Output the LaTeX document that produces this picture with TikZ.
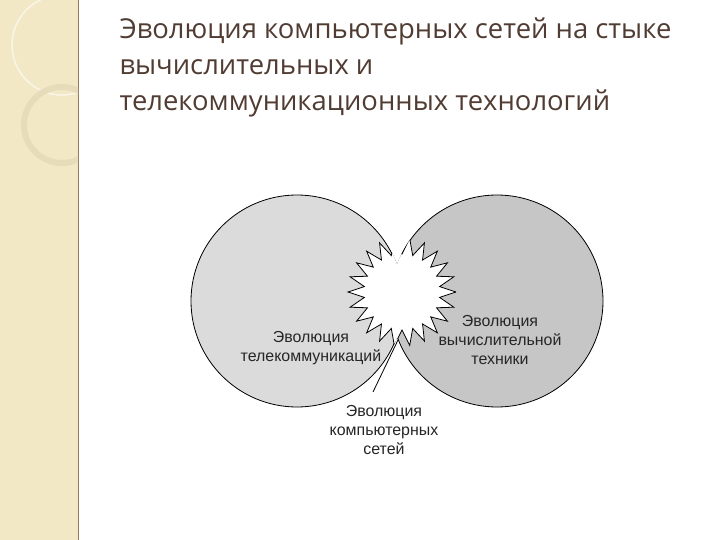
\documentclass[tikz,border=0pt]{standalone}
\usepackage{fontspec}
\setmainfont{Open Sans}
\newfontfamily\diagfont{Liberation Sans}
\definecolor{panel}{RGB}{242,232,198}
\definecolor{panelline}{RGB}{150,120,90}
\definecolor{ring}{RGB}{230,220,185}
\definecolor{titlec}{RGB}{80,60,50}
\begin{document}
\begin{tikzpicture}[x=1bp,y=-1bp,
  circ/.style={draw=black,line width=0.8bp},
  lbl/.style={font=\diagfont\fontsize{16}{19}\selectfont,align=center,text=black!85},
  ttl/.style={font=\fontsize{27.5}{36}\selectfont,text=titlec,anchor=west}]
\useasboundingbox (0,0) rectangle (720,540);
\fill[white] (0,0) rectangle (720,540);
% left panel
\fill[panel] (0,0) rectangle (78,540);
\draw[panelline,line width=1bp] (78,0) -- (78,540);
\begin{scope}
\clip (0,0) rectangle (78,540);
\draw[white,opacity=0.6,line width=1.5bp] (62,45) circle (50);
\draw[ring,line width=6bp] (62,125) circle (38);
\end{scope}
% title
\node[ttl] (t1) at (116,31) {Эволюция компьютерных сетей на стыке};
\node[ttl] (t2) at (116,67) {вычислительных и};
\node[ttl] (t3) at (116,103) {телекоммуникационных технологий};
% circles
\coordinate (lc) at (297,301);
\coordinate (rc) at (497,301);
\fill[gray!28] (lc) circle (106);
\fill[gray!45] (rc) circle (106);
\draw[circ] (lc) circle (106);
\draw[circ] (rc) circle (106);
\begin{scope}
\clip (lc) circle (106.5) (rc) circle (106.5);
\fill[white] plot[samples at={0,...,43}] ({402+(mod(\x,2)==0?54:38)*cos(\x*360/44)},{292+(mod(\x,2)==0?54:38)*sin(\x*360/44)}) -- cycle;
\draw[line width=0.8bp] plot[samples at={0,...,44}] ({402+(mod(\x,2)==0?54:38)*cos(\x*360/44)},{292+(mod(\x,2)==0?54:38)*sin(\x*360/44)});
\end{scope}
% labels
\node[lbl] (l1) at (311,348) {Эволюция\\телекоммуникаций};
\node[lbl] (l2) at (500,340) {Эволюция\\вычислительной\\техники};
\node[lbl] (l3) at (384,430) {Эволюция\\компьютерных\\сетей};
\coordinate (p) at (398,340);
\coordinate (q) at (373,392);
\draw[line width=0.8bp] (q) -- (p);
\end{tikzpicture}
\end{document}
